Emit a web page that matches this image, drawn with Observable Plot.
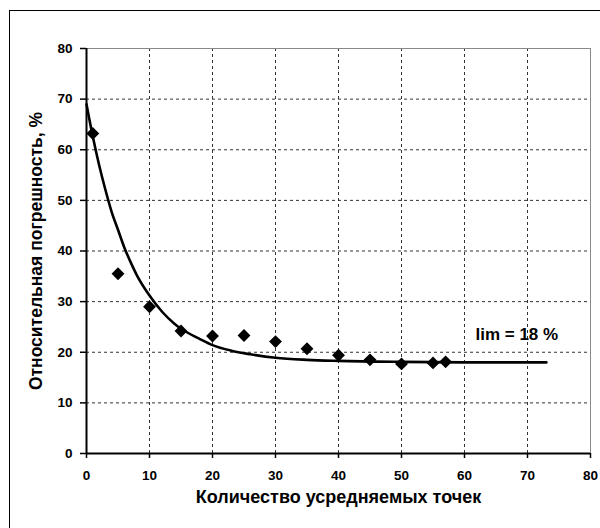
<!DOCTYPE html>
<html>
<head>
<meta charset="utf-8">
<script src="https://cdn.jsdelivr.net/npm/d3@7"></script>
<script src="https://cdn.jsdelivr.net/npm/@observablehq/plot@0.6"></script>
<style>
  html, body { margin: 0; padding: 0; background: #fff; }
  #wrap { position: relative; width: 600px; height: 528px; overflow: hidden; }
  #border { position: absolute; left: 9px; top: 10px; width: 640px; height: 640px; border: 1px solid #000; box-sizing: border-box; pointer-events: none; }
  #chart { position: absolute; left: 0; top: 0; }
</style>
</head>
<body>
<div id="wrap"><div id="chart"></div><div id="border"></div></div>
<script>
// Measured points (number of averaged points -> relative error, %)
const pointsX = [1, 5, 10, 15, 20, 25, 30, 35, 40, 45, 50, 55, 57];
const pointsY = [63.2, 35.5, 29.0, 24.2, 23.2, 23.3, 22.1, 20.7, 19.4, 18.5, 17.7, 17.9, 18.1];

// Trend curve
const curveX = [0, 1, 2, 3, 4, 5, 6, 7, 8, 10, 12, 14, 16, 18, 20, 23, 26, 30, 35, 40, 50, 60, 73];
const curveY = [69, 62.6, 57.0, 52.1, 47.7, 44.2, 40.7, 37.8, 35.2, 31.2, 28.0, 25.6, 23.9, 22.6, 21.4, 20.3, 19.6, 18.9, 18.5, 18.3, 18.1, 18.0, 18.0];

const xTicks = [0, 10, 20, 30, 40, 50, 60, 70, 80];
const yTicks = [0, 10, 20, 30, 40, 50, 60, 70, 80];
const gridTicks = [10, 20, 30, 40, 50, 60, 70];

const xTitle = "Количество усредняемых точек";
const yTitle = "Относительная погрешность, %";
const limLabel = "lim = 18 %";
const limAt = {x: 68.3, y: 23.5};

const points = pointsX.map((x, i) => ({x, y: pointsY[i]}));
const curve = curveX.map((x, i) => ({x, y: curveY[i]}));

const chart = Plot.plot({
  width: 600,
  height: 528,
  marginLeft: 86,
  marginRight: 10,
  marginTop: 48,
  marginBottom: 75,
  style: {fontFamily: "Arial, 'Liberation Sans', sans-serif", fontWeight: "bold", fontSize: "13px", color: "#000", background: "transparent"},
  x: {domain: [0, 80]},
  y: {domain: [0, 80]},
  marks: [
    Plot.gridX(gridTicks, {stroke: "#333", strokeOpacity: 1, strokeDasharray: "3,3", strokeWidth: 1}),
    Plot.gridY(gridTicks, {stroke: "#333", strokeOpacity: 1, strokeDasharray: "3,3", strokeWidth: 1}),
    Plot.ruleY([80], {stroke: "#8a8a8a", strokeWidth: 1}),
    Plot.ruleX([80], {stroke: "#8a8a8a", strokeWidth: 1}),
    Plot.axisX({ticks: xTicks, tickSize: 5, tickPadding: 12, label: null, fontSize: 13.5, fontWeight: "bold", strokeWidth: 1.5}),
    Plot.axisY({ticks: yTicks, tickSize: 6, tickPadding: 8, label: null, fontSize: 13.5, fontWeight: "bold", strokeWidth: 1.5}),
    Plot.ruleY([0], {stroke: "#000", strokeWidth: 2}),
    Plot.ruleX([0], {stroke: "#000", strokeWidth: 2}),
    Plot.line(curve, {x: "x", y: "y", stroke: "#000", strokeWidth: 2.6, curve: "monotone-x"}),
    Plot.dot(points, {x: "x", y: "y", symbol: "diamond2", r: 5.8, fill: "#000", stroke: "none"}),
    Plot.text([limLabel], {x: () => limAt.x, y: () => limAt.y, fontSize: 17, fontWeight: "bold", fill: "#000"}),
    Plot.text([xTitle], {frameAnchor: "bottom", dy: 44, lineAnchor: "middle", fontSize: 18, fontWeight: "bold", fill: "#000"}),
    Plot.text([yTitle], {frameAnchor: "left", dx: -50, rotate: -90, textAnchor: "middle", lineAnchor: "middle", fontSize: 17.5, fontWeight: "bold", fill: "#000"})
  ]
});
document.getElementById("chart").appendChild(chart);
</script>
</body>
</html>
